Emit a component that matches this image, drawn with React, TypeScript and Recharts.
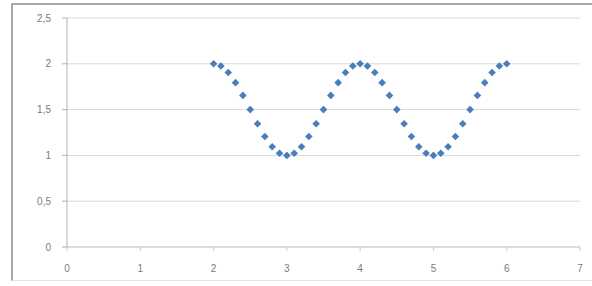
import { ScatterChart, Scatter, XAxis, YAxis, CartesianGrid, ZAxis } from 'recharts';

const xValues = [
  2.0, 2.1, 2.2, 2.3, 2.4, 2.5, 2.6, 2.7, 2.8, 2.9,
  3.0, 3.1, 3.2, 3.3, 3.4, 3.5, 3.6, 3.7, 3.8, 3.9,
  4.0, 4.1, 4.2, 4.3, 4.4, 4.5, 4.6, 4.7, 4.8, 4.9,
  5.0, 5.1, 5.2, 5.3, 5.4, 5.5, 5.6, 5.7, 5.8, 5.9,
  6.0,
];

const yValues = [
  2.0, 1.976, 1.905, 1.794, 1.655, 1.5, 1.345, 1.206, 1.095, 1.024,
  1.0, 1.024, 1.095, 1.206, 1.345, 1.5, 1.655, 1.794, 1.905, 1.976,
  2.0, 1.976, 1.905, 1.794, 1.655, 1.5, 1.345, 1.206, 1.095, 1.024,
  1.0, 1.024, 1.095, 1.206, 1.345, 1.5, 1.655, 1.794, 1.905, 1.976,
  2.0,
];

const xTicks = [0, 1, 2, 3, 4, 5, 6, 7];
const yTicks = [0, 0.5, 1, 1.5, 2, 2.5];

const data = xValues.map((x, i) => ({ x, y: yValues[i] }));

const fmt = (v: number) => String(v).replace('.', ',');

const Diamond = (props: any) => {
  const { cx, cy } = props;
  const r = 3.8;
  return (
    <polygon
      points={`${cx},${cy - r} ${cx + r},${cy} ${cx},${cy + r} ${cx - r},${cy}`}
      fill="#4a7ebb"
    />
  );
};

const tickStyle = { fontSize: 10, fill: '#7a7a7a', fontFamily: 'Liberation Sans, Arial, sans-serif' };

export default function App() {
  return (
    <div style={{ position: 'fixed', left: 0, top: 0, width: 592, height: 286, background: '#fff', overflow: 'hidden' }}>
      {/* chart area frame */}
      <svg width={592} height={286} style={{ position: 'absolute', left: 0, top: 0 }}>
        <line x1={12} y1={4} x2={592} y2={4} stroke="#a8a8a8" strokeWidth={2} />
        <line x1={12} y1={3} x2={12} y2={281} stroke="#a8a8a8" strokeWidth={2} />
        <line x1={12} y1={280.5} x2={592} y2={280.5} stroke="#e2e2e2" strokeWidth={1} />
      </svg>
      <div style={{ position: 'absolute', left: 0, top: 0 }}>
        <ScatterChart width={592} height={286} margin={{ top: 18, right: 12, bottom: 0, left: 0 }}>
          <CartesianGrid vertical={false} stroke="#d9d9d9" />
          <XAxis
            type="number"
            dataKey="x"
            domain={[0, 7]}
            ticks={xTicks}
            height={39}
            tickSize={4}
            tickMargin={14}
            stroke="#cccccc"
            tick={tickStyle}
            tickFormatter={fmt}
          />
          <YAxis
            type="number"
            dataKey="y"
            domain={[0, 2.5]}
            ticks={yTicks}
            width={67}
            tickSize={5}
            tickMargin={11}
            stroke="#b0b0b0"
            tick={tickStyle}
            tickFormatter={fmt}
          />
          <ZAxis range={[40, 40]} />
          <Scatter data={data} shape={<Diamond />} isAnimationActive={false} />
        </ScatterChart>
      </div>
    </div>
  );
}
